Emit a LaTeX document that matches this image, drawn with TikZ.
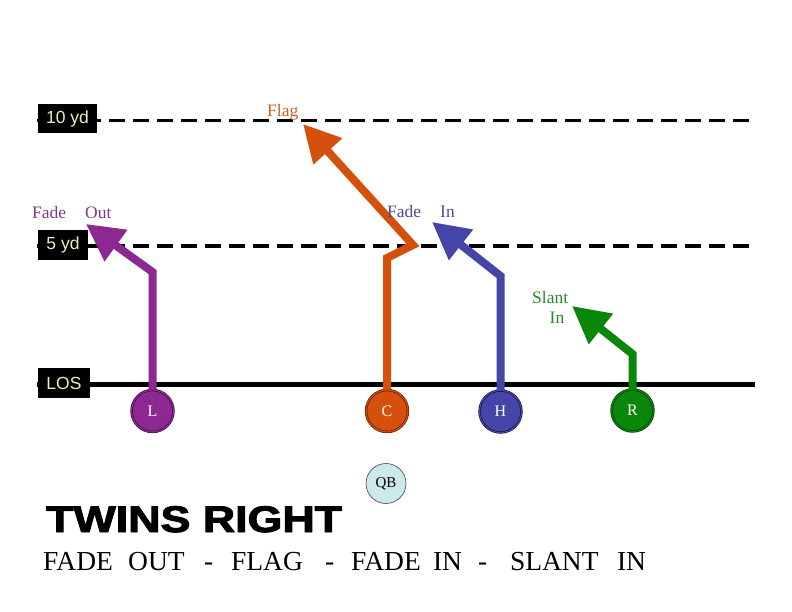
\documentclass[tikz,border=0pt]{standalone}
\usepackage{fontspec}
\setmainfont{Liberation Serif}
\newfontfamily\arialfont{Liberation Sans}
\newfontfamily\heavyfont{Liberation Sans}[BoldFeatures={FakeBold=2.5}]
\usetikzlibrary{arrows.meta}
\definecolor{purpFill}{HTML}{8C2890}
\definecolor{purpDark}{HTML}{3A0A3A}
\definecolor{purpText}{HTML}{7F3A86}
\definecolor{orFill}{HTML}{D4500C}
\definecolor{orDark}{HTML}{4A1A00}
\definecolor{orText}{HTML}{C4602A}
\definecolor{blFill}{HTML}{4545A8}
\definecolor{blDark}{HTML}{101040}
\definecolor{blText}{HTML}{4E4E8E}
\definecolor{grFill}{HTML}{0A860A}
\definecolor{grDark}{HTML}{003300}
\definecolor{grText}{HTML}{2A8A2A}
\definecolor{ydText}{HTML}{E4F5B5}
\definecolor{qbFill}{HTML}{CDE8EA}
\begin{document}
\begin{tikzpicture}[x=1pt,y=-1pt,
  yardline/.style={line width=3.5pt, dash pattern=on 16pt off 8pt},
  losline/.style={line width=5pt},
  ydbox/.style={fill=black, text=ydText, inner sep=0pt, font=\arialfont\fontsize{17.5}{18}\selectfont},
  player/.style 2 args={circle, fill=#1, draw=#2, double=#1, double distance=1.2pt, line width=0.6pt,
    minimum size=42pt, inner sep=0pt, text=white, font=\fontsize{16}{16}\selectfont},
  route/.style={line width=8pt, line join=miter, draw=#1, -{Triangle[length=37pt,width=37pt]}},
  routelabel/.style={anchor=base west, inner sep=0pt, text=#1, font=\fontsize{17.5}{20}\selectfont},
]
\useasboundingbox (0,0) rectangle (792,612);

% yard lines
\coordinate (tenL) at (37,120.5);
\coordinate (tenR) at (755,120.5);
\coordinate (fiveL) at (37,246);
\coordinate (fiveR) at (755,246);
\coordinate (losL) at (37,384.5);
\coordinate (losR) at (755,384.5);
\draw[yardline] (tenL) -- (tenR);
\draw[yardline] (fiveL) -- (fiveR);
\draw[losline] (losL) -- (losR);

\node[ydbox, minimum width=59pt, minimum height=29pt] (ten) at (67.5,118.5) {10 yd};
\node[ydbox, minimum width=50pt, minimum height=30pt] (five) at (63,245) {5 yd};
\node[ydbox, minimum width=52pt, minimum height=30pt] (los) at (64,383) {LOS};

% players
\node[player={purpFill}{purpDark}] (L) at (152.5,411) {L};
\node[player={orFill}{orDark}] (C) at (387,411) {C};
\node[player={blFill}{blDark}] (H) at (500.5,411.5) {H};
\node[player={grFill}{grDark}] (R) at (632.5,410.5) {R};
\node[circle, fill=qbFill, draw=black!75, line width=0.6pt, minimum size=40pt, inner sep=0pt,
  font=\fontsize{15}{15}\selectfont] (QB) at (386,483.5) {QB};

% route points
\coordinate (Lbend) at (152.5,272);
\coordinate (Ltip) at (86,224);
\coordinate (Cbend1) at (387,258);
\coordinate (Cbend2) at (413,245);
\coordinate (Ctip) at (303,124);
\coordinate (Hbend) at (500.5,276);
\coordinate (Htip) at (432,222);
\coordinate (Rbend) at (632.5,354);
\coordinate (Rtip) at (572,306);

\draw[route=purpFill] (L.north) -- (Lbend) -- (Ltip);
\draw[route=orFill] (C.north) -- (Cbend1) -- (Cbend2) -- (Ctip);
\draw[route=blFill] (H.north) -- (Hbend) -- (Htip);
\draw[route=grFill] (R.north) -- (Rbend) -- (Rtip);

% route labels
\node[routelabel=orText] (flag) at (267,117) {Flag};
\node[routelabel=purpText] (fadeout) at (32,219) {Fade\hspace{19pt}Out};
\node[routelabel=blText] (fadein) at (387,218) {Fade\hspace{19pt}In};
\node[routelabel=grText] (slant) at (532,303) {Slant};
\node[routelabel=grText] (slantin) at (549.5,323) {In};

% titles
\node[anchor=base west, inner sep=0pt, font=\heavyfont\bfseries\fontsize{37}{40}\selectfont] (title) at (46,532)
  {\scalebox{1.21}[1]{TWINS RIGHT}};
\node[anchor=base west, inner sep=0pt, font=\fontsize{27.5}{30}\selectfont] (plays) at (43,570)
  {FADE\hspace{15.2pt}OUT\hspace{19.5pt}-\hspace{17.8pt}FLAG\hspace{22.2pt}-\hspace{16.8pt}FADE\hspace{12.2pt}IN\hspace{16pt}-\hspace{22.8pt}SLANT\hspace{18.4pt}IN};
\end{tikzpicture}
\end{document}
